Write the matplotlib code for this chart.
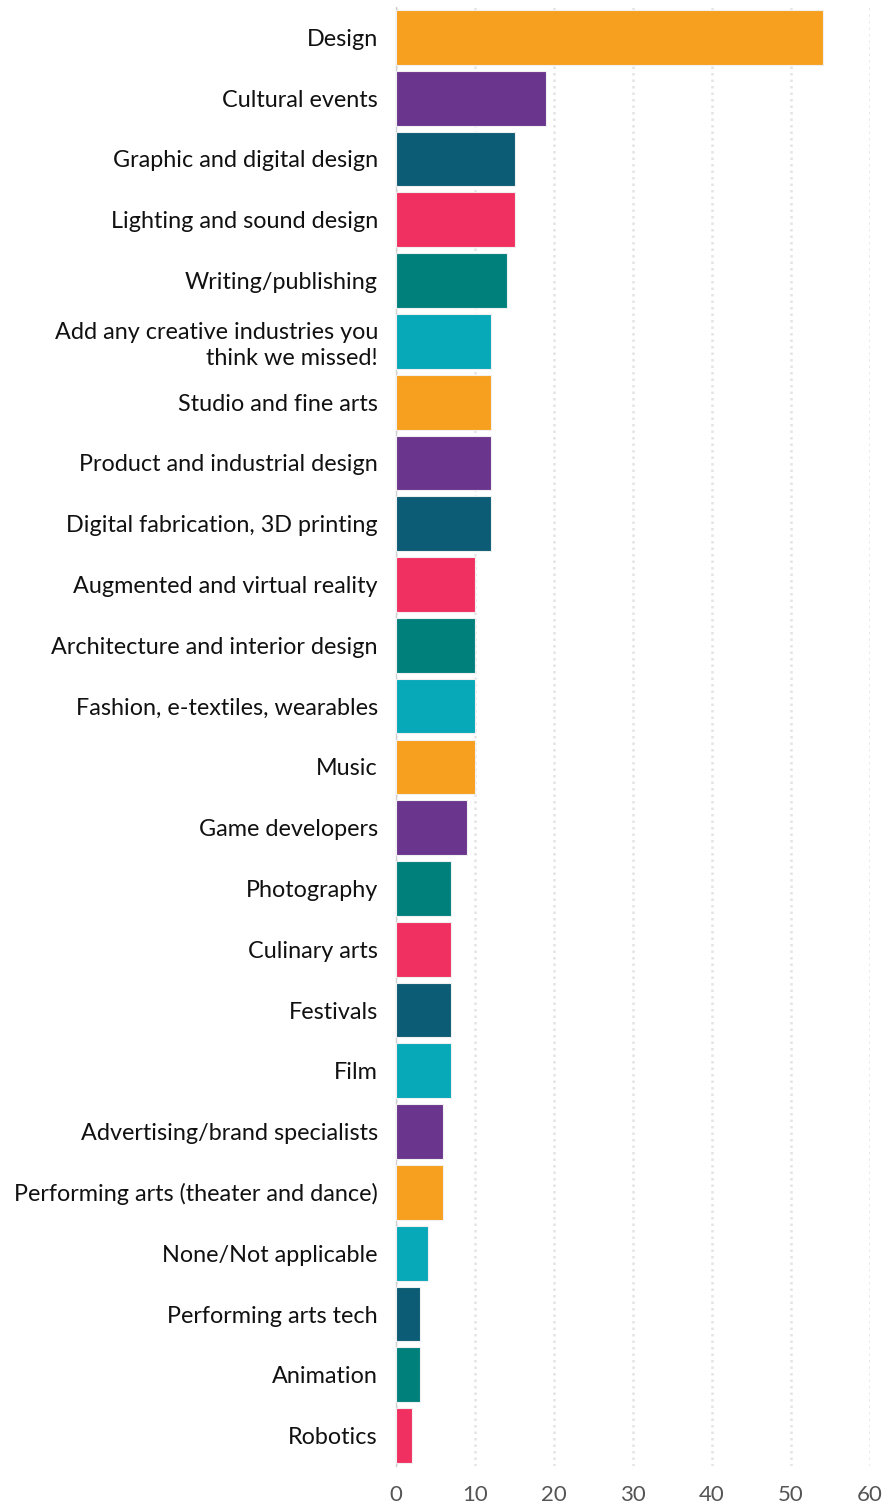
import matplotlib.pyplot as plt

categories = [
    "Design", "Cultural events", "Graphic and digital design",
    "Lighting and sound design", "Writing/publishing",
    "Add any creative industries you\nthink we missed!",
    "Studio and fine arts", "Product and industrial design",
    "Digital fabrication, 3D printing", "Augmented and virtual reality",
    "Architecture and interior design", "Fashion, e-textiles, wearables",
    "Music", "Game developers", "Photography", "Culinary arts",
    "Festivals", "Film", "Advertising/brand specialists",
    "Performing arts (theater and dance)", "None/Not applicable",
    "Performing arts tech", "Animation", "Robotics",
]
counts = [54, 19, 15, 15, 14, 12, 12, 12, 12, 10, 10, 10, 10, 9,
          7, 7, 7, 7, 6, 6, 4, 3, 3, 2]

ORANGE = "#F79F1F"
PURPLE = "#6A368D"
NAVY = "#0B5C74"
PINK = "#F03060"
TEAL = "#00807B"
CYAN = "#07A8B8"
bar_colors = [ORANGE, PURPLE, NAVY, PINK, TEAL, CYAN, ORANGE, PURPLE, NAVY,
              PINK, TEAL, CYAN, ORANGE, PURPLE, TEAL, PINK, NAVY, CYAN,
              PURPLE, ORANGE, CYAN, NAVY, TEAL, PINK]

plt.rcParams['font.family'] = ['Lato', 'DejaVu Sans']

fig = plt.figure(figsize=(8.83, 15.07), dpi=100)
ax = fig.add_axes([396 / 883, 1 - 1466 / 1507, (870 - 396) / 883, 1459 / 1507])

ypos = list(range(len(categories)))
ax.barh(ypos, counts, height=0.9, color=bar_colors,
        edgecolor="#f0f0f0", linewidth=0.8, zorder=3)

ax.set_ylim(len(categories) - 0.5, -0.5)
ax.set_xlim(0, 60)
ax.set_xticks(range(0, 61, 10))
ax.set_yticks(ypos)
ax.set_yticklabels(categories, fontsize=16.8, color="#111111",
                   linespacing=1.3)

ax.xaxis.grid(True, linestyle=(0, (1, 1.6)), color="#e4e4e4",
              linewidth=1.8, zorder=0)
ax.tick_params(axis="x", length=0, labelsize=16, labelcolor="#555555", pad=14)
ax.tick_params(axis="y", length=0, pad=13)

for side in ("top", "right", "bottom"):
    ax.spines[side].set_visible(False)
ax.spines["left"].set_color("#d0d0d0")
ax.spines["left"].set_linewidth(1)

fig.savefig("out.png", dpi=100)
